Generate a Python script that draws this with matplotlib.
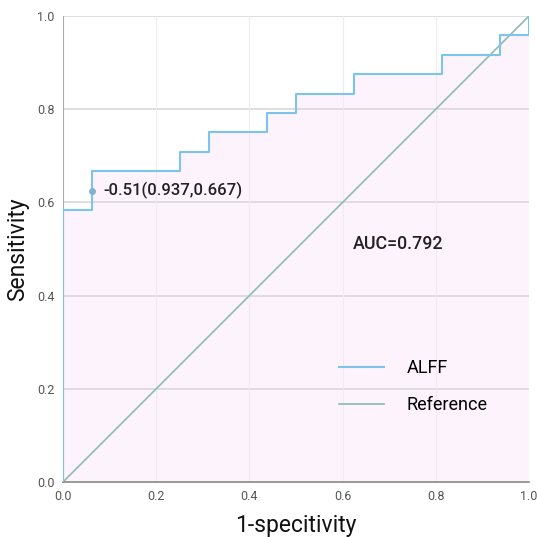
import matplotlib
matplotlib.use('Agg')
import matplotlib.pyplot as plt

# ROC data (16 negatives, 24 positives)
fpr = [0.0, 0.0, 1/16, 1/16, 4/16, 4/16, 5/16, 5/16, 7/16, 7/16, 8/16, 8/16,
       10/16, 10/16, 13/16, 13/16, 15/16, 15/16, 1.0, 1.0]
tpr = [0.0, 14/24, 14/24, 16/24, 16/24, 17/24, 17/24, 18/24, 18/24, 19/24, 19/24, 20/24,
       20/24, 21/24, 21/24, 22/24, 22/24, 23/24, 23/24, 1.0]
ref = [0.0, 1.0]
cut_point = (1/16, 0.625)
cut_label = '-0.51(0.937,0.667)'
auc_label = 'AUC=0.792'

plt.rcParams['font.family'] = ['Roboto', 'DejaVu Sans']

fig = plt.figure(figsize=(5.37, 5.37), dpi=100)
ax = fig.add_axes([0.1173, 0.1024, 0.868, 0.868])

ax.fill_between(fpr, tpr, 0, color='#fcf3fc', zorder=0, linewidth=0)
for y in [0.2, 0.4, 0.6, 0.8, 1.0]:
    ax.axhline(y, color='#d8d8d8', linewidth=1.2, zorder=1)
for x in [0.2, 0.4, 0.6, 0.8]:
    ax.axvline(x, color='#f2eaf2', linewidth=0.8, zorder=1)

ax.plot(fpr, tpr, color='#7cc4ee', linewidth=1.5, label='ALFF', zorder=3)
ax.plot(ref, ref, color='#8cbcb1', linewidth=1.2, label='Reference', zorder=2)
ax.plot(*cut_point, 'o', color='#7fb2cc', markersize=4, zorder=4)
ax.text(cut_point[0] + 0.025, cut_point[1], cut_label, fontsize=12, fontweight='medium',
        va='center', ha='left', color='#222222')
ax.text(0.622, 0.511, auc_label, fontsize=12.8, fontweight='medium',
        va='center', ha='left', color='#222222')

ax.set_xlim(0, 1)
ax.set_ylim(0, 1)
ax.set_xticks([0, 0.2, 0.4, 0.6, 0.8, 1.0])
ax.set_yticks([0, 0.2, 0.4, 0.6, 0.8, 1.0])
ax.tick_params(length=0, labelsize=9, labelcolor='#555555', pad=6)
for s in ['top', 'right']:
    ax.spines[s].set_visible(False)
ax.spines['left'].set_color('#aaaaaa')
ax.spines['bottom'].set_color('#888888')
ax.spines['bottom'].set_linewidth(1.2)

ax.set_xlabel('1-specitivity', fontsize=16.5, color='#111111', labelpad=8)
ax.set_ylabel('Sensitivity', fontsize=16.5, color='#111111', labelpad=6)

ax.legend(loc='center left', bbox_to_anchor=(0.557, 0.204), frameon=False,
          fontsize=13, handlelength=2.5, handletextpad=1.25, labelspacing=1.05)

fig.savefig('out.png', dpi=100)
